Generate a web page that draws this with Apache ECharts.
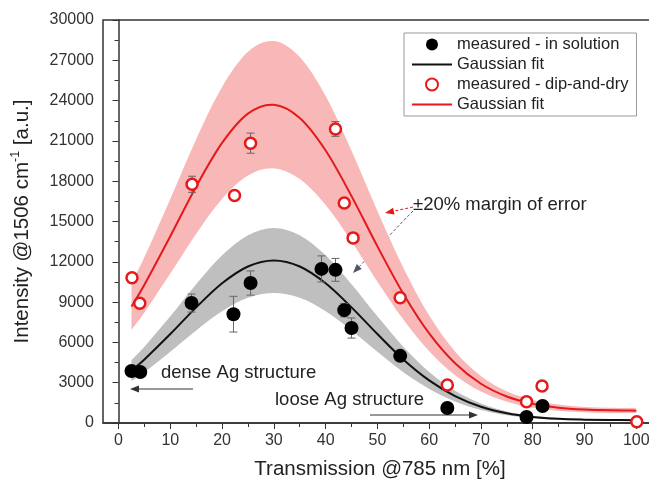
<!DOCTYPE html>
<html>
<head>
<meta charset="utf-8">
<script src="https://cdn.jsdelivr.net/npm/echarts@6/dist/echarts.min.js"></script>
<style>
  html, body { margin: 0; padding: 0; background: #fff; }
  #chart { width: 649px; height: 486px; }
</style>
</head>
<body>
<div id="chart"></div>
<script>
// measured points, in solution (black)
var blackX = [2.5, 4.2, 14.1, 22.2, 25.5, 39.2, 41.9, 43.6, 45.0, 54.4, 63.5, 78.8, 81.9];
var blackY = [3870, 3800, 8930, 8100, 10420, 11470, 11400, 8400, 7070, 5000, 1120, 450, 1270];
var blackErr = [300, 0, 670, 1330, 900, 970, 850, 500, 750, 0, 0, 0, 0];

// measured points, dip-and-dry (red)
var redX = [2.6, 4.1, 14.2, 22.4, 25.5, 41.9, 43.6, 45.3, 54.4, 63.5, 78.8, 81.8, 100.1];
var redY = [10820, 8910, 17770, 16930, 20830, 21890, 16380, 13780, 9330, 2830, 1590, 2760, 100];
var redErr = [0, 0, 600, 0, 750, 550, 0, 0, 0, 0, 0, 0, 0];

// gaussian fits and +-20% band
var fitX = [2.5, 5, 10, 15, 20, 25, 30, 35, 40, 45, 50, 55, 60, 65, 70, 75, 80, 85, 90, 95, 100];
var blackFit = [3900, 4730, 6620, 8610, 10400, 11650, 12100, 11650, 10400, 8610, 6620, 4730, 3170, 2000, 1210, 720, 450, 310, 250, 220, 210];
var blackUp = [4680, 5680, 7940, 10330, 12480, 13980, 14520, 13980, 12480, 10330, 7940, 5680, 3800, 2400, 1450, 860, 540, 370, 300, 264, 252];
var blackLo = [3120, 3780, 5300, 6890, 8320, 9320, 9680, 9320, 8320, 6890, 5300, 3780, 2540, 1600, 970, 580, 360, 250, 200, 176, 168];
var redFit = [8670, 10290, 13900, 17610, 20850, 23030, 23690, 22700, 20280, 16890, 13150, 9630, 6670, 4445, 2920, 1970, 1430, 1140, 1000, 940, 920];
var redUp = [10400, 12350, 16680, 21130, 25020, 27640, 28430, 27240, 24340, 20270, 15780, 11560, 8000, 5330, 3500, 2360, 1720, 1370, 1200, 1130, 1100];
var redLo = [6940, 8230, 11120, 14090, 16680, 18420, 18950, 18160, 16220, 13510, 10520, 7700, 5340, 3560, 2340, 1580, 1140, 910, 800, 750, 740];

// axis ticks
var xMajor = [0, 10, 20, 30, 40, 50, 60, 70, 80, 90, 100];
var xMinor = [5, 15, 25, 35, 45, 55, 65, 75, 85, 95];

var FONT = 'Liberation Sans, Arial, sans-serif';
var LINE_ICON = 'path://M0,0H40V2H0Z';

function zip(xs, ys, es) {
  return xs.map(function (x, i) { return es ? [x, ys[i], es[i]] : [x, ys[i]]; });
}

// smooth path through pixel points (catmull-rom)
function curveTo(pts, start) {
  var d = (start ? 'M' : 'L') + pts[0][0] + ',' + pts[0][1];
  for (var i = 0; i < pts.length - 1; i++) {
    var p0 = pts[Math.max(i - 1, 0)], p1 = pts[i], p2 = pts[i + 1], p3 = pts[Math.min(i + 2, pts.length - 1)];
    var c1x = p1[0] + (p2[0] - p0[0]) / 6, c1y = p1[1] + (p2[1] - p0[1]) / 6;
    var c2x = p2[0] - (p3[0] - p1[0]) / 6, c2y = p2[1] - (p3[1] - p1[1]) / 6;
    d += 'C' + c1x + ',' + c1y + ',' + c2x + ',' + c2y + ',' + p2[0] + ',' + p2[1];
  }
  return d;
}

function bandSeries(lo, up, color) {
  return {
    type: 'custom', silent: true, z: 1,
    data: [[fitX[0], lo[0]]],
    encode: { x: 0, y: 1 },
    renderItem: function (params, api) {
      var upPts = fitX.map(function (x, i) { return api.coord([x, up[i]]); });
      var loPts = fitX.map(function (x, i) { return api.coord([x, lo[i]]); }).reverse();
      var d = curveTo(upPts, true) + curveTo(loPts, false) + 'Z';
      return { type: 'path', shape: { pathData: d }, style: { fill: color } };
    }
  };
}

function fitSeries(name, ys, color) {
  return {
    name: name, type: 'custom', silent: true, z: 3,
    data: [[fitX[0], ys[0]]],
    encode: { x: 0, y: 1 },
    itemStyle: { color: color },
    renderItem: function (params, api) {
      var pts = fitX.map(function (x, i) { return api.coord([x, ys[i]]); });
      return { type: 'path', shape: { pathData: curveTo(pts, true) },
        style: { fill: null, stroke: color, lineWidth: 2 } };
    }
  };
}

function errRender(params, api) {
  var x = api.value(0), y = api.value(1), e = api.value(2);
  if (!e) return null;
  var t = api.coord([x, y + e]), b = api.coord([x, y - e]);
  var st = { stroke: '#666', lineWidth: 1 };
  return {
    type: 'group',
    children: [
      { type: 'line', shape: { x1: t[0], y1: t[1], x2: b[0], y2: b[1] }, style: st },
      { type: 'line', shape: { x1: t[0] - 4, y1: t[1], x2: t[0] + 4, y2: t[1] }, style: st },
      { type: 'line', shape: { x1: b[0] - 4, y1: b[1], x2: b[0] + 4, y2: b[1] }, style: st }
    ]
  };
}

// annotation arrow in pixels
function arrow(x1, y1, x2, y2, color, dashed) {
  var a = Math.atan2(y2 - y1, x2 - x1), L = 9, W = 3.5;
  var bx = x2 - L * Math.cos(a), by = y2 - L * Math.sin(a);
  var px = -Math.sin(a) * W, py = Math.cos(a) * W;
  return {
    type: 'group', z: 10,
    children: [
      { type: 'line', shape: { x1: x1, y1: y1, x2: bx, y2: by },
        style: { stroke: color, lineWidth: 1, lineDash: dashed ? [3, 2] : null } },
      { type: 'polygon', shape: { points: [[x2, y2], [bx + px, by + py], [bx - px, by - py]] },
        style: { fill: color } }
    ]
  };
}

var chart = echarts.init(document.getElementById('chart'));

var option = {
  animation: false,
  textStyle: { fontFamily: FONT },
  grid: {
    left: 103, width: 554, top: 20, bottom: 63,
    outerBoundsMode: 'none', containLabel: false,
    show: true, borderColor: '#333', borderWidth: 1.5
  },
  legend: {
    left: 404, top: 33, orient: 'vertical',
    itemWidth: 40, itemHeight: 12, itemGap: 3,
    padding: [3, 8, 3, 8],
    borderColor: '#999', borderWidth: 1, backgroundColor: '#fff',
    textStyle: { fontSize: 16.5, color: '#222', fontFamily: FONT },
    data: [
      { name: 'measured - in solution' },
      { name: 'Gaussian fit', icon: LINE_ICON },
      { name: 'measured - dip-and-dry' },
      { name: 'Gaussian fit ', icon: LINE_ICON }
    ]
  },
  xAxis: [{
    type: 'value', min: -3, max: 104,
    name: 'Transmission @785 nm [%]', nameLocation: 'middle', nameGap: 36,
    nameTextStyle: { fontSize: 20.5, color: '#222' },
    axisLine: { lineStyle: { color: '#333', width: 1.5 } },
    axisTick: { inside: false, length: 6, lineStyle: { color: '#333' }, customValues: xMajor },
    axisLabel: { fontSize: 16, color: '#333', margin: 10, customValues: xMajor },
    splitLine: { show: false }
  }, {
    type: 'value', min: -3, max: 104, position: 'bottom', gridIndex: 0,
    axisLine: { show: false },
    axisTick: { length: 4, lineStyle: { color: '#333' }, customValues: xMinor },
    axisLabel: { show: false },
    splitLine: { show: false }
  }],
  yAxis: {
    type: 'value', min: 0, max: 30000, interval: 3000,
    name: '{a|Intensity @1506 cm}{s|-1}{a| [a.u.]}', nameLocation: 'middle', nameGap: 70,
    nameTextStyle: {
      rich: {
        a: { fontSize: 20.5, color: '#222', fontFamily: FONT, lineHeight: 24, verticalAlign: 'bottom' },
        s: { fontSize: 12.5, color: '#222', fontFamily: FONT, lineHeight: 24, verticalAlign: 'top' }
      }
    },
    axisLine: { show: true, lineStyle: { color: '#333', width: 1.5 } },
    axisTick: { show: true, length: 6, lineStyle: { color: '#333' } },
    minorTick: { show: true, splitNumber: 2, length: 4, lineStyle: { color: '#333' } },
    axisLabel: { fontSize: 16, color: '#333', margin: 9, formatter: function (v) { return String(v); } },
    splitLine: { show: false }
  },
  series: [
    bandSeries(blackLo, blackUp, '#bfbfbf'),
    bandSeries(redLo, redUp, '#f9b8b8'),
    fitSeries('Gaussian fit', blackFit, '#111'),
    fitSeries('Gaussian fit ', redFit, '#e3191b'),
    { type: 'custom', renderItem: errRender, data: zip(blackX, blackY, blackErr),
      encode: { x: 0, y: 1 }, z: 4, silent: true },
    { type: 'custom', renderItem: errRender, data: zip(redX, redY, redErr),
      encode: { x: 0, y: 1 }, z: 4, silent: true },
    { name: 'measured - in solution', type: 'scatter', symbolSize: 14, z: 5,
      data: zip(blackX, blackY), itemStyle: { color: '#000', opacity: 1 } },
    { name: 'measured - dip-and-dry', type: 'scatter', symbolSize: 11, z: 5,
      data: zip(redX, redY), itemStyle: { color: '#fff', borderColor: '#e3191b', borderWidth: 2.5, opacity: 1 } }
  ],
  graphic: [
    { type: 'text', left: 161, top: 363, z: 10, style: { text: 'dense Ag structure', font: '18.5px ' + FONT, fill: '#222' } },
    arrow(193, 389, 130, 389, '#333', false),
    { type: 'text', left: 275, top: 390, z: 10, style: { text: 'loose Ag structure', font: '18.5px ' + FONT, fill: '#222' } },
    arrow(370, 415, 478, 415, '#333', false),
    { type: 'text', left: 413, top: 195, z: 10, style: { text: '±20% margin of error', font: '18.5px ' + FONT, fill: '#222' } },
    arrow(413, 207, 385, 213, '#e3191b', true),
    arrow(413, 211, 353, 273, '#556', true)
  ]
};

chart.setOption(option);
</script>
</body>
</html>
